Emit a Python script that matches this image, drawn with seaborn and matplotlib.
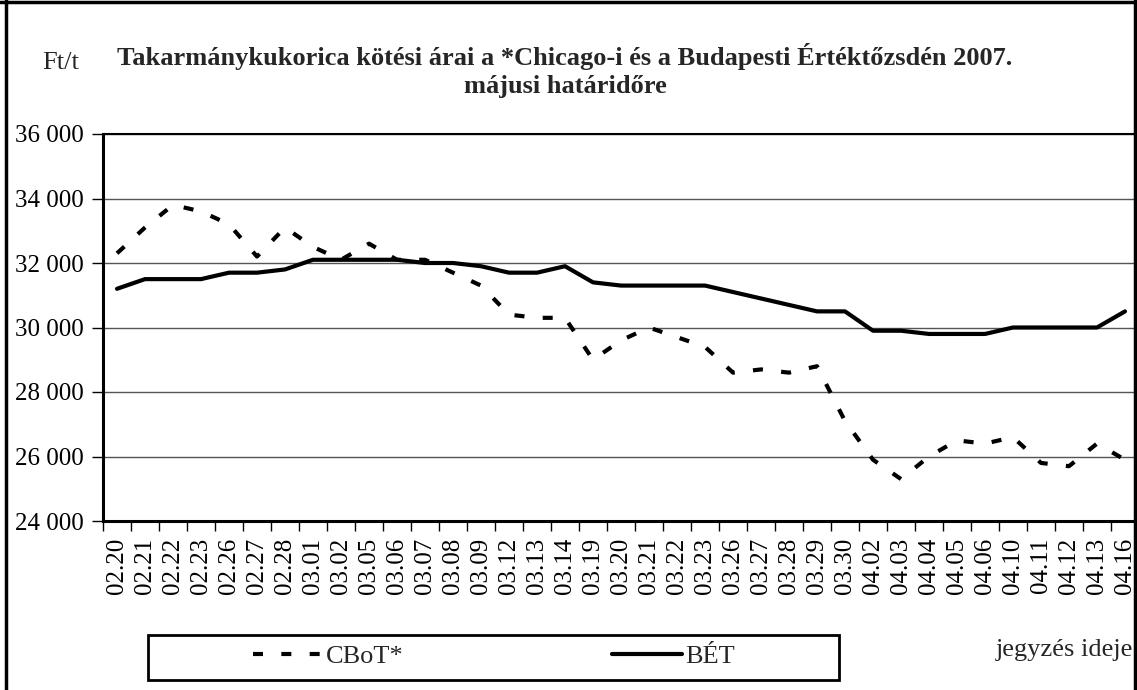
import matplotlib
matplotlib.use("Agg")
import matplotlib.pyplot as plt
from matplotlib.lines import Line2D
from matplotlib.patches import Rectangle
import seaborn as sns

# jegyzés napjai (hó.nap)
dates = ["02.20", "02.21", "02.22", "02.23", "02.26", "02.27", "02.28", "03.01",
         "03.02", "03.05", "03.06", "03.07", "03.08", "03.09", "03.12", "03.13",
         "03.14", "03.19", "03.20", "03.21", "03.22", "03.23", "03.26", "03.27",
         "03.28", "03.29", "03.30", "04.02", "04.03", "04.04", "04.05", "04.06",
         "04.10", "04.11", "04.12", "04.13", "04.16"]

# Ft/t
cbot = [32300, 33100, 33800, 33600, 33200, 32200, 33100, 32500, 32100, 32600,
        32100, 32100, 31700, 31300, 30400, 30300, 30300, 29000, 29600, 30000,
        29700, 29400, 28600, 28700, 28600, 28800, 27100, 25900, 25300, 26000,
        26500, 26400, 26600, 25800, 25700, 26400, 25900]
bet = [31200, 31500, 31500, 31500, 31700, 31700, 31800, 32100, 32100, 32100,
       32100, 32000, 32000, 31900, 31700, 31700, 31900, 31400, 31300, 31300,
       31300, 31300, 31100, 30900, 30700, 30500, 30500, 29900, 29900, 29800,
       29800, 29800, 30000, 30000, 30000, 30000, 30500]

yticks = [24000, 26000, 28000, 30000, 32000, 34000, 36000]

sns.set_theme(style="white")
plt.rcParams['font.family'] = ['Liberation Serif', 'DejaVu Serif']

W, H = 1137, 690
fig = plt.figure(figsize=(W / 100, H / 100), dpi=100)
ax = fig.add_axes([103 / W, 1 - 521 / H, 1036 / W, 387 / H])

x = list(range(len(dates)))
sns.lineplot(x=x, y=cbot, ax=ax, color="black", linewidth=3,
             linestyle=(0, (2.4, 4.4)), label="CBoT*", legend=False)
sns.lineplot(x=x, y=bet, ax=ax, color="black", linewidth=3,
             label="BÉT", legend=False)

ax.set_xlim(-0.5, len(dates) - 0.5)
ax.set_ylim(yticks[0], yticks[-1])
ax.set_yticks(yticks)
ax.set_yticklabels([f"{v:,}".replace(",", " ") for v in yticks], fontsize=18)
ax.set_xticks(x)
ax.set_xticklabels(dates, rotation=90, fontsize=18)
ax.set_xticks([i - 0.5 for i in range(len(dates) + 1)], minor=True)
ax.tick_params(axis="x", which="major", length=0, pad=12, colors="black")
ax.tick_params(axis="x", which="minor", length=7, width=1, color="black",
               direction="out", bottom=True)
ax.tick_params(axis="y", length=8, width=1, color="black", direction="out",
               left=True, pad=6, labelcolor="black")

ax.yaxis.grid(True, color="#555555", linewidth=1)
ax.set_axisbelow(True)
for side in ["left", "bottom"]:
    ax.spines[side].set_color("black")
    ax.spines[side].set_linewidth(2.2)
ax.spines["top"].set_color("black")
ax.spines["top"].set_linewidth(1.5)
ax.spines["right"].set_visible(False)

fig.text(0.497, 1 - 57 / H,
         "Takarmánykukorica kötési árai a *Chicago-i és a Budapesti Értéktőzsdén 2007.",
         ha="center", va="center", fontsize=19, fontweight="bold")
fig.text(0.497, 1 - 87 / H, "májusi határidőre",
         ha="center", va="center", fontsize=19, fontweight="bold")
fig.text(61 / W, 1 - 63 / H, "Ft/t", ha="center", va="center", fontsize=19)
fig.text(1133 / W, 1 - 650 / H, "jegyzés ideje", ha="right", va="center", fontsize=19)

# jelmagyarázat kerettel
fig.patches.append(Rectangle((148 / W, 1 - 680 / H), 691 / W, 45 / H,
                             transform=fig.transFigure, fill=False,
                             edgecolor="black", linewidth=2))
handles, labels = ax.get_legend_handles_labels()
fig.legend(handles, labels, loc="center", bbox_to_anchor=(494 / W, 1 - 656 / H),
           ncol=2, frameon=False, fontsize=19, handlelength=2.65,
           handletextpad=0.1, columnspacing=7.9)

# külső keret
for xs, ys in [([6 / W, 6 / W], [0, 1]), ([0, 1], [1 - 2 / H, 1 - 2 / H]),
               ([1135 / W, 1135 / W], [0, 1])]:
    fig.lines.append(Line2D(xs, ys, transform=fig.transFigure,
                            color="black", linewidth=2.5))

fig.savefig("out.png", dpi=100)
